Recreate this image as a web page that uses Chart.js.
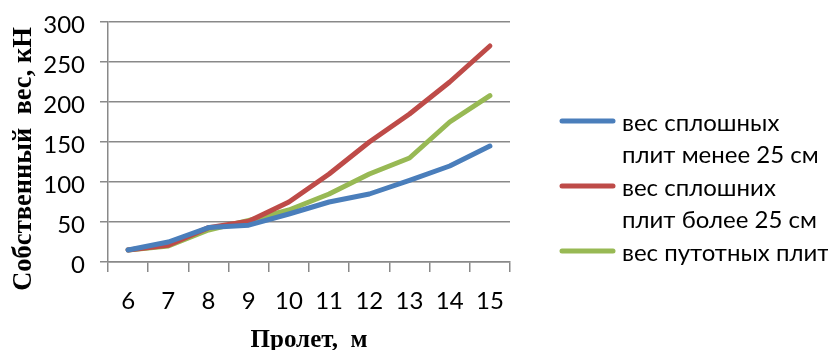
<!DOCTYPE html>
<html>
<head>
<meta charset="utf-8">
<script src="https://cdn.jsdelivr.net/npm/chart.js@4/dist/chart.umd.min.js"></script>
<style>
  html, body { margin: 0; padding: 0; background: #ffffff; }
  #wrap { width: 828px; height: 350px; position: relative; }
</style>
</head>
<body>
<div id="wrap"><canvas id="chart"></canvas></div>
<script>
// Span of the slab, m
const spans = ['6', '7', '8', '9', '10', '11', '12', '13', '14', '15'];

// Self weight, kN
const solidUnder25 = [15, 25, 43, 46, 60, 75, 85, 102, 120, 145];
const solidOver25  = [15, 21, 43, 51, 75, 110, 150, 185, 225, 270];
const hollowCore   = [15, 20, 40, 52, 65, 85, 110, 130, 175, 208];

// Legend entries (already split into lines)
const seriesNames = [
  ['вес сплошных', 'плит менее 25 см'],
  ['вес сплошних', 'плит более 25 см'],
  ['вес путотных плит']
];

const yTitle = 'Собственный  вес, кН';
const xTitle = 'Пролет,  м';

const seriesColors = ['#4a7ebb', '#be4b48', '#98b954'];
const gridColor = '#898989';
const tickFont = { family: 'Lato, "Open Sans", sans-serif', size: 24 };
const titleFont = { family: '"Liberation Serif", "Times New Roman", serif', size: 25, weight: 'bold' };

// Rotated value-axis title and the multi-line legend on the right
const sidePieces = {
  id: 'sidePieces',
  afterDraw(chart) {
    const ctx = chart.ctx;
    ctx.save();
    // y title
    ctx.font = 'bold 26.5px "Liberation Serif", "Times New Roman", serif';
    ctx.fillStyle = '#000';
    ctx.textAlign = 'center';
    ctx.textBaseline = 'middle';
    ctx.translate(24, 159);
    ctx.rotate(-Math.PI / 2);
    ctx.fillText(yTitle, 0, 0);
    ctx.restore();

    // legend
    ctx.save();
    ctx.font = '24px Lato, "Open Sans", sans-serif';
    ctx.textAlign = 'left';
    ctx.textBaseline = 'middle';
    const lineH = 32.5;
    let row = 123;
    chart.data.datasets.forEach((ds, i) => {
      const lines = seriesNames[i];
      ctx.strokeStyle = ds.borderColor;
      ctx.lineWidth = 5;
      ctx.lineCap = 'round';
      ctx.beginPath();
      ctx.moveTo(562, row - 2);
      ctx.lineTo(613, row - 2);
      ctx.stroke();
      ctx.fillStyle = '#000';
      lines.forEach((t, k) => ctx.fillText(t, 622, row + k * lineH));
      row += lines.length * lineH;
    });
    ctx.restore();
  }
};

const mkSet = (name, values, color) => ({
  label: name.join(' '),
  data: values,
  borderColor: color,
  backgroundColor: color,
  borderWidth: 5,
  borderCapStyle: 'round',
  borderJoinStyle: 'round',
  pointRadius: 0,
  pointHoverRadius: 0,
  tension: 0,
  fill: false
});

new Chart(document.getElementById('chart'), {
  type: 'line',
  data: {
    labels: spans,
    datasets: [
      mkSet(seriesNames[0], solidUnder25, seriesColors[0]),
      mkSet(seriesNames[1], solidOver25, seriesColors[1]),
      mkSet(seriesNames[2], hollowCore, seriesColors[2])
    ]
  },
  options: {
    responsive: true,
    maintainAspectRatio: false,
    animation: false,
    devicePixelRatio: 1,
    layout: { padding: { left: 0, right: 318, top: 22, bottom: 0 } },
    plugins: {
      legend: { display: false },
      tooltip: { enabled: false }
    },
    scales: {
      x: {
        offset: true,
        grid: {
          offset: true,
          drawOnChartArea: false,
          drawTicks: true,
          tickLength: 10,
          color: gridColor,
          lineWidth: 1.5
        },
        border: { display: true, color: gridColor, width: 1.5 },
        ticks: { font: tickFont, color: '#000', padding: 15, maxRotation: 0, autoSkip: false },
        title: {
          display: true,
          text: xTitle,
          font: { ...titleFont, lineHeight: 1 },
          color: '#000',
          padding: { top: 0, bottom: -3 }
        },
        afterFit(scale) { scale.height = 88; scale.paddingLeft = 0; scale.paddingRight = 0; }
      },
      y: {
        min: 0,
        max: 300,
        grid: {
          drawTicks: true,
          tickLength: 8,
          color: gridColor,
          lineWidth: 1.5
        },
        border: { display: true, color: gridColor, width: 1.5 },
        ticks: { stepSize: 50, font: tickFont, color: '#000', padding: 15, labelOffset: 3 },
        afterFit(scale) { scale.width = 108; scale.paddingTop = 0; scale.paddingBottom = 0; }
      }
    }
  },
  plugins: [sidePieces]
});
</script>
</body>
</html>
